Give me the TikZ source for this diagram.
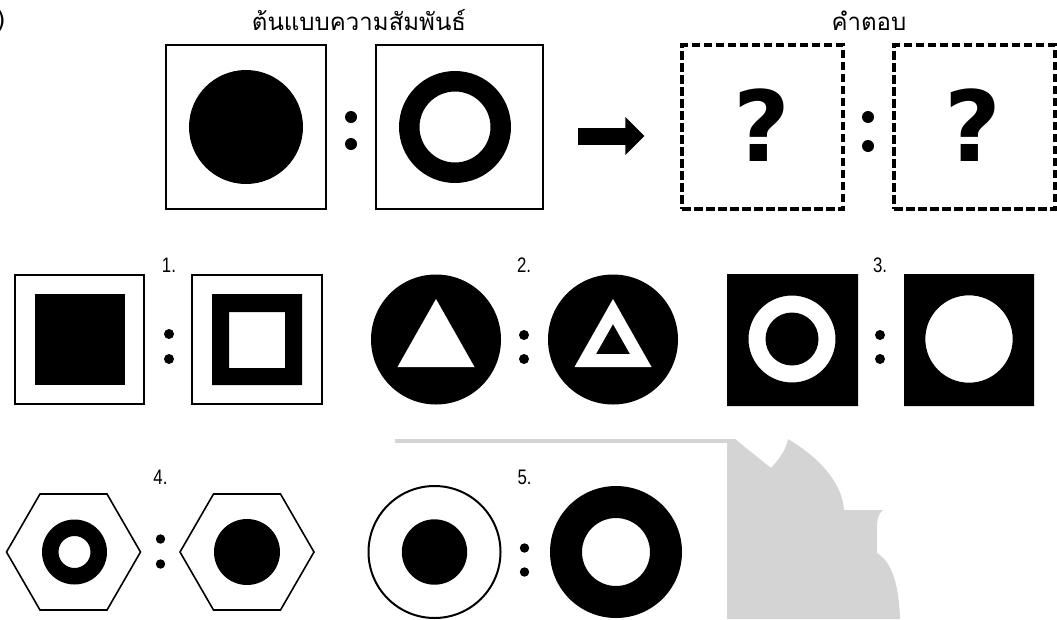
\documentclass[tikz,border=0pt]{standalone}
\usepackage{fontspec}
\newfontfamily\thaifont[Script=Thai]{Loma}
\newfontfamily\numfont[FakeStretch=0.8]{Liberation Sans}
\newfontfamily\markfont{DejaVu Sans}
\usetikzlibrary{arrows.meta}
\definecolor{wmgray}{RGB}{212,212,212}
\tikzset{
  patbox/.style={draw,line width=2pt,inner sep=0pt,minimum height=164pt},
  ansbox/.style={draw,line width=3.2pt,dash pattern=on 8.5pt off 3.5pt,inner sep=0pt,minimum width=161pt,minimum height=164pt},
  title/.style={font=\thaifont\fontsize{24}{28}\selectfont,anchor=base},
  numlabel/.style={font=\numfont\fontsize{21}{24}\selectfont,inner sep=0pt},
  qmark/.style={font=\markfont\bfseries\fontsize{98}{100}\selectfont,inner sep=0pt},
  bigarrow/.style={line width=17pt,-{Triangle[length=19pt,width=37pt]}}
}
\begin{document}
\begin{tikzpicture}[x=1pt,y=-1pt]
  \useasboundingbox (0,0) rectangle (1057,619);
  % watermark behind the last row
  \fill[wmgray] (395,439) rectangle (727,443);
  \fill[wmgray] (727,439) -- (735,439) -- (771,468) .. controls (780,458) and (786,450) .. (788,439)
    .. controls (815,455) and (842,480) .. (844,510) -- (883,510) .. controls (877,515) and (877,522) .. (877,530)
    -- (877,553) .. controls (892,562) and (899,585) .. (900,619) -- (727,619) -- cycle;
  \node[font=\markfont\fontsize{24}{28}\selectfont,anchor=east,inner sep=0pt] (itemno) at (6,21) {)};

  % pattern and answer
  \node[title] (t1) at (359,30) {ต้นแบบความสัมพันธ์};
  \node[title] (t2) at (869,30) {คำตอบ};
  \node[patbox,minimum width=160pt] (pa) at (246,127) {};
  \node[patbox,minimum width=167pt] (pb) at (459.5,127) {};
  \node[ansbox] (qa) at (762.5,127) {};
  \node[ansbox] (qb) at (974.5,127) {};
  \fill (246,127) circle (57);
  \fill[even odd rule] (455,127) circle (56) circle (35.5);
  \node[qmark] (qma) at (762,125) {?};
  \node[qmark] (qmb) at (973,125) {?};
  \draw[bigarrow,shorten <=34pt,shorten >=36pt] ([yshift=-9pt]pb.east) -- ([yshift=-9pt]qa.west);

  % colons and numbers
  \foreach \x/\y/\h/\r in {351/130.5/13.5/6,868/131.5/14.5/6,169/346.5/12.5/5,524/347/12/5,
      880/347/12/5,160.5/551.5/12.5/4.7,524.5/560/12/4.7}
    \fill (\x,\y-\h) circle (\r) (\x,\y+\h) circle (\r);
  \foreach \n/\x/\y in {1/169/265,2/524/265,3/880/265,4/160.5/477,5/524.5/477}
    \node[numlabel] (lab\n) at (\x,\y) {\n.};

  % 1.
  \draw[line width=2pt] (15,275) rectangle (144,404);
  \fill (35,294) rectangle (125,385);
  \draw[line width=2pt] (192,275) rectangle (322,404);
  \fill[even odd rule] (212,294) rectangle (302,385) (229,312) rectangle (285,368);
  % 2.
  \fill (436,339.5) circle (65);
  \fill[white] (436,299) -- (474.5,367) -- (397.5,367) -- cycle;
  \fill (613,339.5) circle (65);
  \fill[white,even odd rule] (613,299) -- (651.5,367) -- (574.5,367) -- cycle
    (613,324) -- (630,354) -- (596,354) -- cycle;
  % 3.
  \fill[even odd rule] (727,274) rectangle (858,406) (792,339) circle (43.5) circle (26.5);
  \fill[even odd rule] (904,274) rectangle (1034,406) (969,339) circle (43.7);
  % 4.
  \draw[line width=1.6pt] (73.5,552) +(0:67) -- +(60:67) -- +(120:67) -- +(180:67) -- +(240:67) -- +(300:67) -- cycle;
  \fill[even odd rule] (74.5,552) circle (32.5) circle (16);
  \draw[line width=1.6pt] (247,552) +(0:67) -- +(60:67) -- +(120:67) -- +(180:67) -- +(240:67) -- +(300:67) -- cycle;
  \fill (247,552) circle (33);
  % 5.
  \draw[line width=2pt] (434.5,552) circle (66);
  \fill (434.5,552) circle (32.7);
  \fill[even odd rule] (616,552) circle (66) circle (34);
\end{tikzpicture}
\end{document}
